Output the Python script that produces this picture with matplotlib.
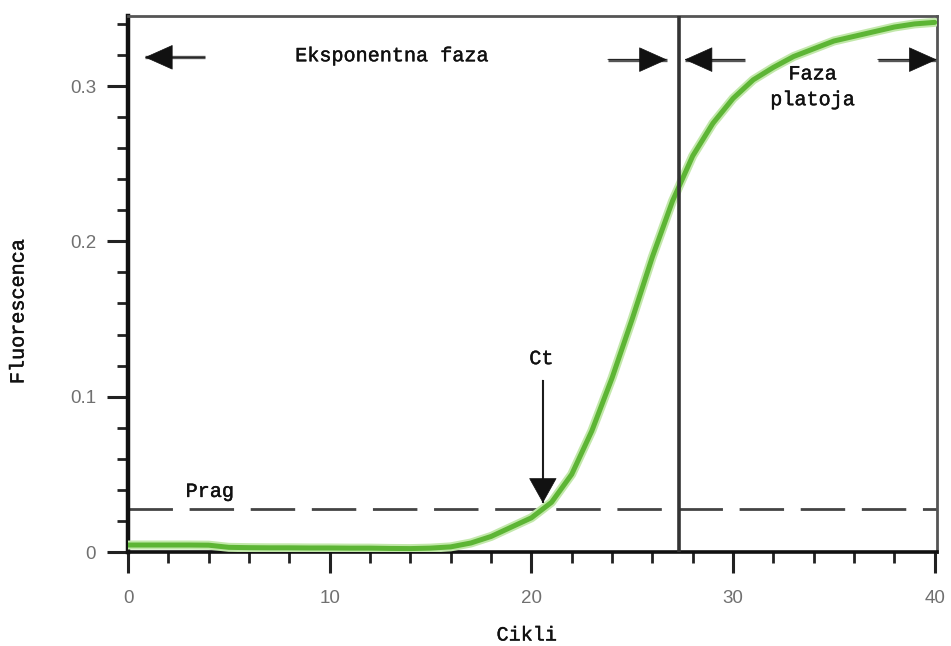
import matplotlib
matplotlib.use("Agg")
import matplotlib.pyplot as plt
import matplotlib.patheffects as pe
from matplotlib.ticker import MultipleLocator

# ---- data ----
cycles = list(range(0, 41))
fluorescence = [0.0045, 0.0045, 0.0045, 0.0045, 0.0044, 0.0030, 0.0028, 0.0027,
                0.0027, 0.0026, 0.0026, 0.0025, 0.0025, 0.0023, 0.0022, 0.0025,
                0.0033, 0.0058, 0.010, 0.016, 0.022, 0.032, 0.050, 0.078,
                0.112, 0.150, 0.190, 0.226, 0.255, 0.276, 0.292, 0.304,
                0.312, 0.319, 0.324, 0.329, 0.332, 0.335, 0.338, 0.340, 0.341]
threshold = 0.0277
ct_cycle = 20.57
phase_boundary = 27.3
x_ticks = [0, 10, 20, 30, 40]
y_ticks = [0, 0.1, 0.2, 0.3]
y_tick_labels = ["0", "0.1", "0.2", "0.3"]

THICK = [pe.withStroke(linewidth=0.3, foreground="#111111")]
TXT = dict(family=["Liberation Mono", "DejaVu Sans Mono"], color="#111111",
           path_effects=THICK)

fig = plt.figure(figsize=(9.51, 6.46), dpi=100)
ax = fig.add_axes([0.1346, 0.1455, 0.8504, 0.8295])
ax.set_xlim(0, 40.1)
ax.set_ylim(0, 0.345)

# curve with soft halo
ax.plot(cycles, fluorescence, color="#c2e8aa", lw=6.5, solid_capstyle="round",
        solid_joinstyle="round", zorder=3)
ax.plot(cycles, fluorescence, color="#5db535", lw=3.6, solid_capstyle="round",
        solid_joinstyle="round", zorder=4)

# threshold
ax.axhline(threshold, color="#444444", lw=2.0, dashes=(16, 6), zorder=2)
# phase boundary
ax.axvline(phase_boundary, color="#333333", lw=2.6, zorder=5)

def arrow(x0, y0, x1, y1, lw=2.4, hl=19, hw=8.5, col="#111111", shaft="#555555"):
    ax.plot([x0, x1], [y0, y1], color=shaft, lw=lw, zorder=6, solid_capstyle="butt")
    ax.annotate("", xy=(x1, y1), xytext=(x0, y0),
                arrowprops=dict(arrowstyle=f"-|>,head_length={hl},head_width={hw}",
                                mutation_scale=1, color=col, lw=0.5,
                                shrinkA=0, shrinkB=0), zorder=7)

arrow(3.82, 0.3185, 0.84, 0.3185)
arrow(23.79, 0.3170, 26.72, 0.3170)
arrow(30.58, 0.3170, 27.60, 0.3170)
arrow(37.17, 0.3170, 40.10, 0.3170)
# Ct arrow
arrow(ct_cycle, 0.1107, ct_cycle, 0.0316, lw=1.5, hl=17, hw=9.5, shaft="#222222")

ax.text(13.1, 0.3195, "Eksponentna faza", ha="center", va="center", fontsize=14.5, **TXT)
ax.text(33.95, 0.2995, "Faza\nplatoja", ha="center", va="center", fontsize=14.5,
        linespacing=1.45, **TXT)
ax.text(20.5, 0.1245, "Ct", ha="center", va="center", fontsize=14.5, **TXT)
ax.text(4.06, 0.0390, "Prag", ha="center", va="center", fontsize=14.5, **TXT)

# axes styling
for side in ["top", "right"]:
    ax.spines[side].set_color("#555555")
    ax.spines[side].set_linewidth(2.0)
ax.spines["left"].set_color("#111111")
ax.spines["left"].set_linewidth(3.2)
ax.spines["bottom"].set_color("#111111")
ax.spines["bottom"].set_linewidth(2.6)

ax.set_xticks(x_ticks)
ax.set_xticklabels([str(v) for v in x_ticks])
ax.xaxis.set_minor_locator(MultipleLocator(2))
ax.set_yticks(y_ticks)
ax.set_yticklabels(y_tick_labels)
ax.yaxis.set_minor_locator(MultipleLocator(0.02))

ax.tick_params(axis="both", which="major", direction="out", length=15, width=2.2,
               color="#222222", labelsize=13.5, labelcolor="#707070")
ax.tick_params(axis="both", which="minor", direction="out", length=8, width=2.0,
               color="#222222")
ax.tick_params(axis="x", which="major", pad=12)
ax.tick_params(axis="y", which="major", pad=8)
for lab in ax.get_xticklabels() + ax.get_yticklabels():
    lab.set_family(["Liberation Sans", "DejaVu Sans"])

fig.text(0.554, 0.017, "Cikli", ha="center", va="center", fontsize=14.5, **TXT)
fig.text(0.019, 0.518, "Fluorescenca", ha="center", va="center", rotation=90,
         fontsize=14.5, **TXT)

fig.savefig("out.png", dpi=100)
